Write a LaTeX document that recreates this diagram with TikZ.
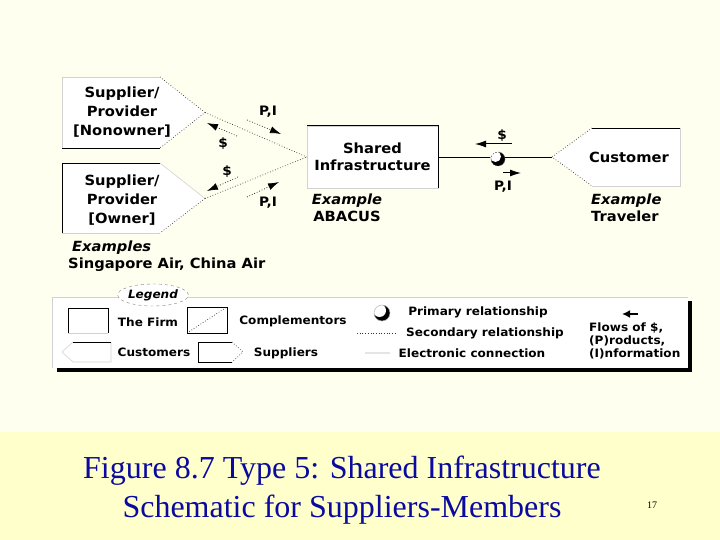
\documentclass[tikz,border=0pt]{standalone}
\usepackage{fontspec}
\setmainfont{Liberation Serif}
\setsansfont[FakeStretch=1.05]{DejaVu Sans}
\usetikzlibrary{arrows.meta,shapes.geometric,calc}
\definecolor{slidetop}{RGB}{255,255,240}
\definecolor{slidebottom}{RGB}{255,255,204}
\definecolor{captionblue}{RGB}{10,10,160}
\tikzset{
  edge/.style = {draw = black, line width = 0.8pt},
  faint/.style = {draw = gray!35, line width = 0.6pt},
  dots/.style = {draw = black!80, dotted, line width = 0.7pt},
  flow/.style = {draw = black, dotted, line width = 0.7pt, -{Latex[length = 11pt, width = 7pt]}},
  flowsolid/.style = {draw = black, line width = 1pt, -{Latex[length = 11pt, width = 7pt]}},
  boxlabel/.style = {font = \sffamily\bfseries\fontsize{14}{19}\selectfont, align = center, inner sep = 0pt},
  flowlabel/.style = {font = \sffamily\bfseries\fontsize{13}{15}\selectfont, inner sep = 0pt},
  exlabel/.style = {font = \sffamily\bfseries\fontsize{14}{17}\selectfont, inner sep = 0pt},
  leglabel/.style = {font = \sffamily\bfseries\fontsize{11.5}{12.8}\selectfont, inner sep = 0pt}
}
\begin{document}
\begin{tikzpicture}[x = 1pt, y = -1pt]
\useasboundingbox (0,0) rectangle (720,540);
\fill [slidetop] (0,0) rectangle (720,432);
\fill [slidebottom] (0,432) rectangle (720,540);
\foreach \n/\top in {1/77, 2/163} {
  \pgfmathsetmacro\bot{\top+71}
  \pgfmathsetmacro\mid{\top+35.5}
  \fill [white] (62,\top) -- (160,\top) -- (205,\mid) -- (160,\bot) -- (62,\bot) -- cycle;
  \coordinate (suptip\n) at (205,\mid);
}
\draw [faint] (160,77) -- (62,77) -- (62,148);
\draw [edge] (62,148) -- (160,148);
\draw [dots] (160,77) -- (suptip1) -- (160,148);
\draw [edge] (62,233) -- (62,163) -- (160,163);
\draw [faint] (62,233) -- (160,233);
\draw [faint] (160,163) -- (suptip2);
\draw [dots] (suptip2) -- (160,233);
\node [boxlabel] (sup1) at (122,112) {Supplier/\\Provider\\{[Nonowner]}};
\node [boxlabel] (sup2) at (122,200) {Supplier/\\Provider\\{[Owner]}};
\node [boxlabel, font = \sffamily\bfseries\fontsize{14}{16.5}\selectfont, fill = white, draw = gray!35, minimum width = 131pt, minimum height = 62pt] (infra) at (372.5,157) {Shared\\Infrastructure};
\draw [edge] (infra.north west) -- (infra.north east) -- (infra.south east);
\draw [dots] (suptip1) -- (infra.west);
\draw [dots] (suptip2) -- (infra.west);
\fill [white] (552,157) -- (592,128) -- (680,128) -- (680,186) -- (592,186) -- cycle;
\coordinate (custtip) at (552,157);
\draw [faint] (680,128) -- (680,186) -- (592,186);
\draw [edge] (592,128) -- (680,128);
\draw [dots] (592,128) -- (custtip) -- (592,186);
\node [boxlabel] (cust) at (629,157) {Customer};
\draw [edge] (infra.east) -- (custtip);
\coordinate (prim) at (498,159);
\fill [black] (prim) circle [radius = 7];
\fill [white] ($(prim)+(-2.5,-2.5)$) circle [radius = 5.5];
\draw [black!70, dash pattern = on 1.5pt off 1.5pt, line width = 0.5pt] (prim) circle [radius = 7];
\coordinate (pi1s) at (247,120);
\coordinate (pi1e) at (281,134);
\coordinate (d1s) at (237,136);
\coordinate (d1e) at (207,123);
\coordinate (d2s) at (238,177);
\coordinate (d2e) at (207,191);
\coordinate (pi2s) at (247,197);
\coordinate (pi2e) at (279,182);
\coordinate (d3s) at (512,144);
\coordinate (d3e) at (475,144);
\coordinate (pi3s) at (503,173);
\coordinate (pi3e) at (521,173);
\foreach \from/\to in {pi1s/pi1e, d1s/d1e, d2s/d2e, pi2s/pi2e} \draw [flow] (\from) -- (\to);
\draw [flowsolid] (d3s) -- (d3e);
\draw [flowsolid] (pi3s) -- (pi3e);
\node [flowlabel] (pi1) at (268,112) {P,I};
\node [flowlabel] (d1) at (223,144) {\$};
\node [flowlabel] (d2) at (227,172) {\$};
\node [flowlabel] (pi2) at (268,203) {P,I};
\node [flowlabel] (d3) at (502,136) {\$};
\node [flowlabel] (pi3) at (503,187) {P,I};
\node [exlabel, align = center] (exinfra) at (347,208) {\itshape Example\\ABACUS};
\node [exlabel, align = left, anchor = west] (excust) at (591,208) {\itshape Example\\Traveler};
\node [exlabel, align = left, anchor = west, font = \sffamily\bfseries\fontsize{14}{16.5}\selectfont] (exsup) at (68,256) {\hspace{4pt}\itshape Examples\\Singapore Air, China Air};
\fill [black] (57,301) rectangle (692,372);
\fill [white] (52,297) rectangle (688,368);
\draw [faint] (52,368) -- (52,297) -- (688,297);
\node [leglabel, draw = gray, dashed, ellipse, fill = white, minimum width = 68pt, minimum height = 22pt] (legend) at (153,295) {\itshape Legend};
\draw [edge] (68,333) -- (68,308) -- (108,308) -- (108,333);
\draw [faint] (68,333) -- (108,333);
\draw [edge] (187,307) rectangle (227,333);
\draw [dots] (187,333) -- (227,307);
\draw [faint] (73,342) -- (62,352) -- (73,362) -- (111,362) -- (111,342);
\draw [edge] (73,342) -- (111,342);
\draw [edge] (232,342) -- (198,342) -- (198,362) -- (232,362);
\draw [dots] (232,342) -- (243,352) -- (232,362);
\coordinate (legprim) at (382,313);
\fill [black] (legprim) circle [radius = 8];
\fill [white] ($(legprim)+(-2.5,-2.5)$) circle [radius = 6.5];
\draw [gray!60, line width = 0.5pt] (legprim) circle [radius = 8];
\draw [dots] (357,333) -- (397,333);
\draw [gray!20, line width = 1.5pt] (365,353) -- (390,353);
\draw [black, line width = 2pt, -{Latex[length = 8pt, width = 8pt]}] (638,314) -- (622,314);
\node [leglabel] (firm) at (148,322) {The Firm};
\node [leglabel] (compl) at (293,321) {Complementors};
\node [leglabel] (custs) at (154,352) {Customers};
\node [leglabel] (supps) at (286,353) {Suppliers};
\node [leglabel] (primtxt) at (478,312) {Primary relationship};
\node [leglabel] (sectxt) at (485,333) {Secondary relationship};
\node [leglabel] (electxt) at (472,353) {Electronic connection};
\node [leglabel, align = left, anchor = west] (flowtxt) at (589,341) {Flows of \$,\\(P)roducts,\\(I)nformation};
\node [font = \fontsize{32}{39}\selectfont, text = captionblue, align = center] (caption) at (342,490) {Figure 8.7 Type 5: Shared Infrastructure\\Schematic for Suppliers-Members};
\node [font = \fontsize{10}{12}\selectfont] (pagenum) at (652,505) {17};
\end{tikzpicture}
\end{document}
